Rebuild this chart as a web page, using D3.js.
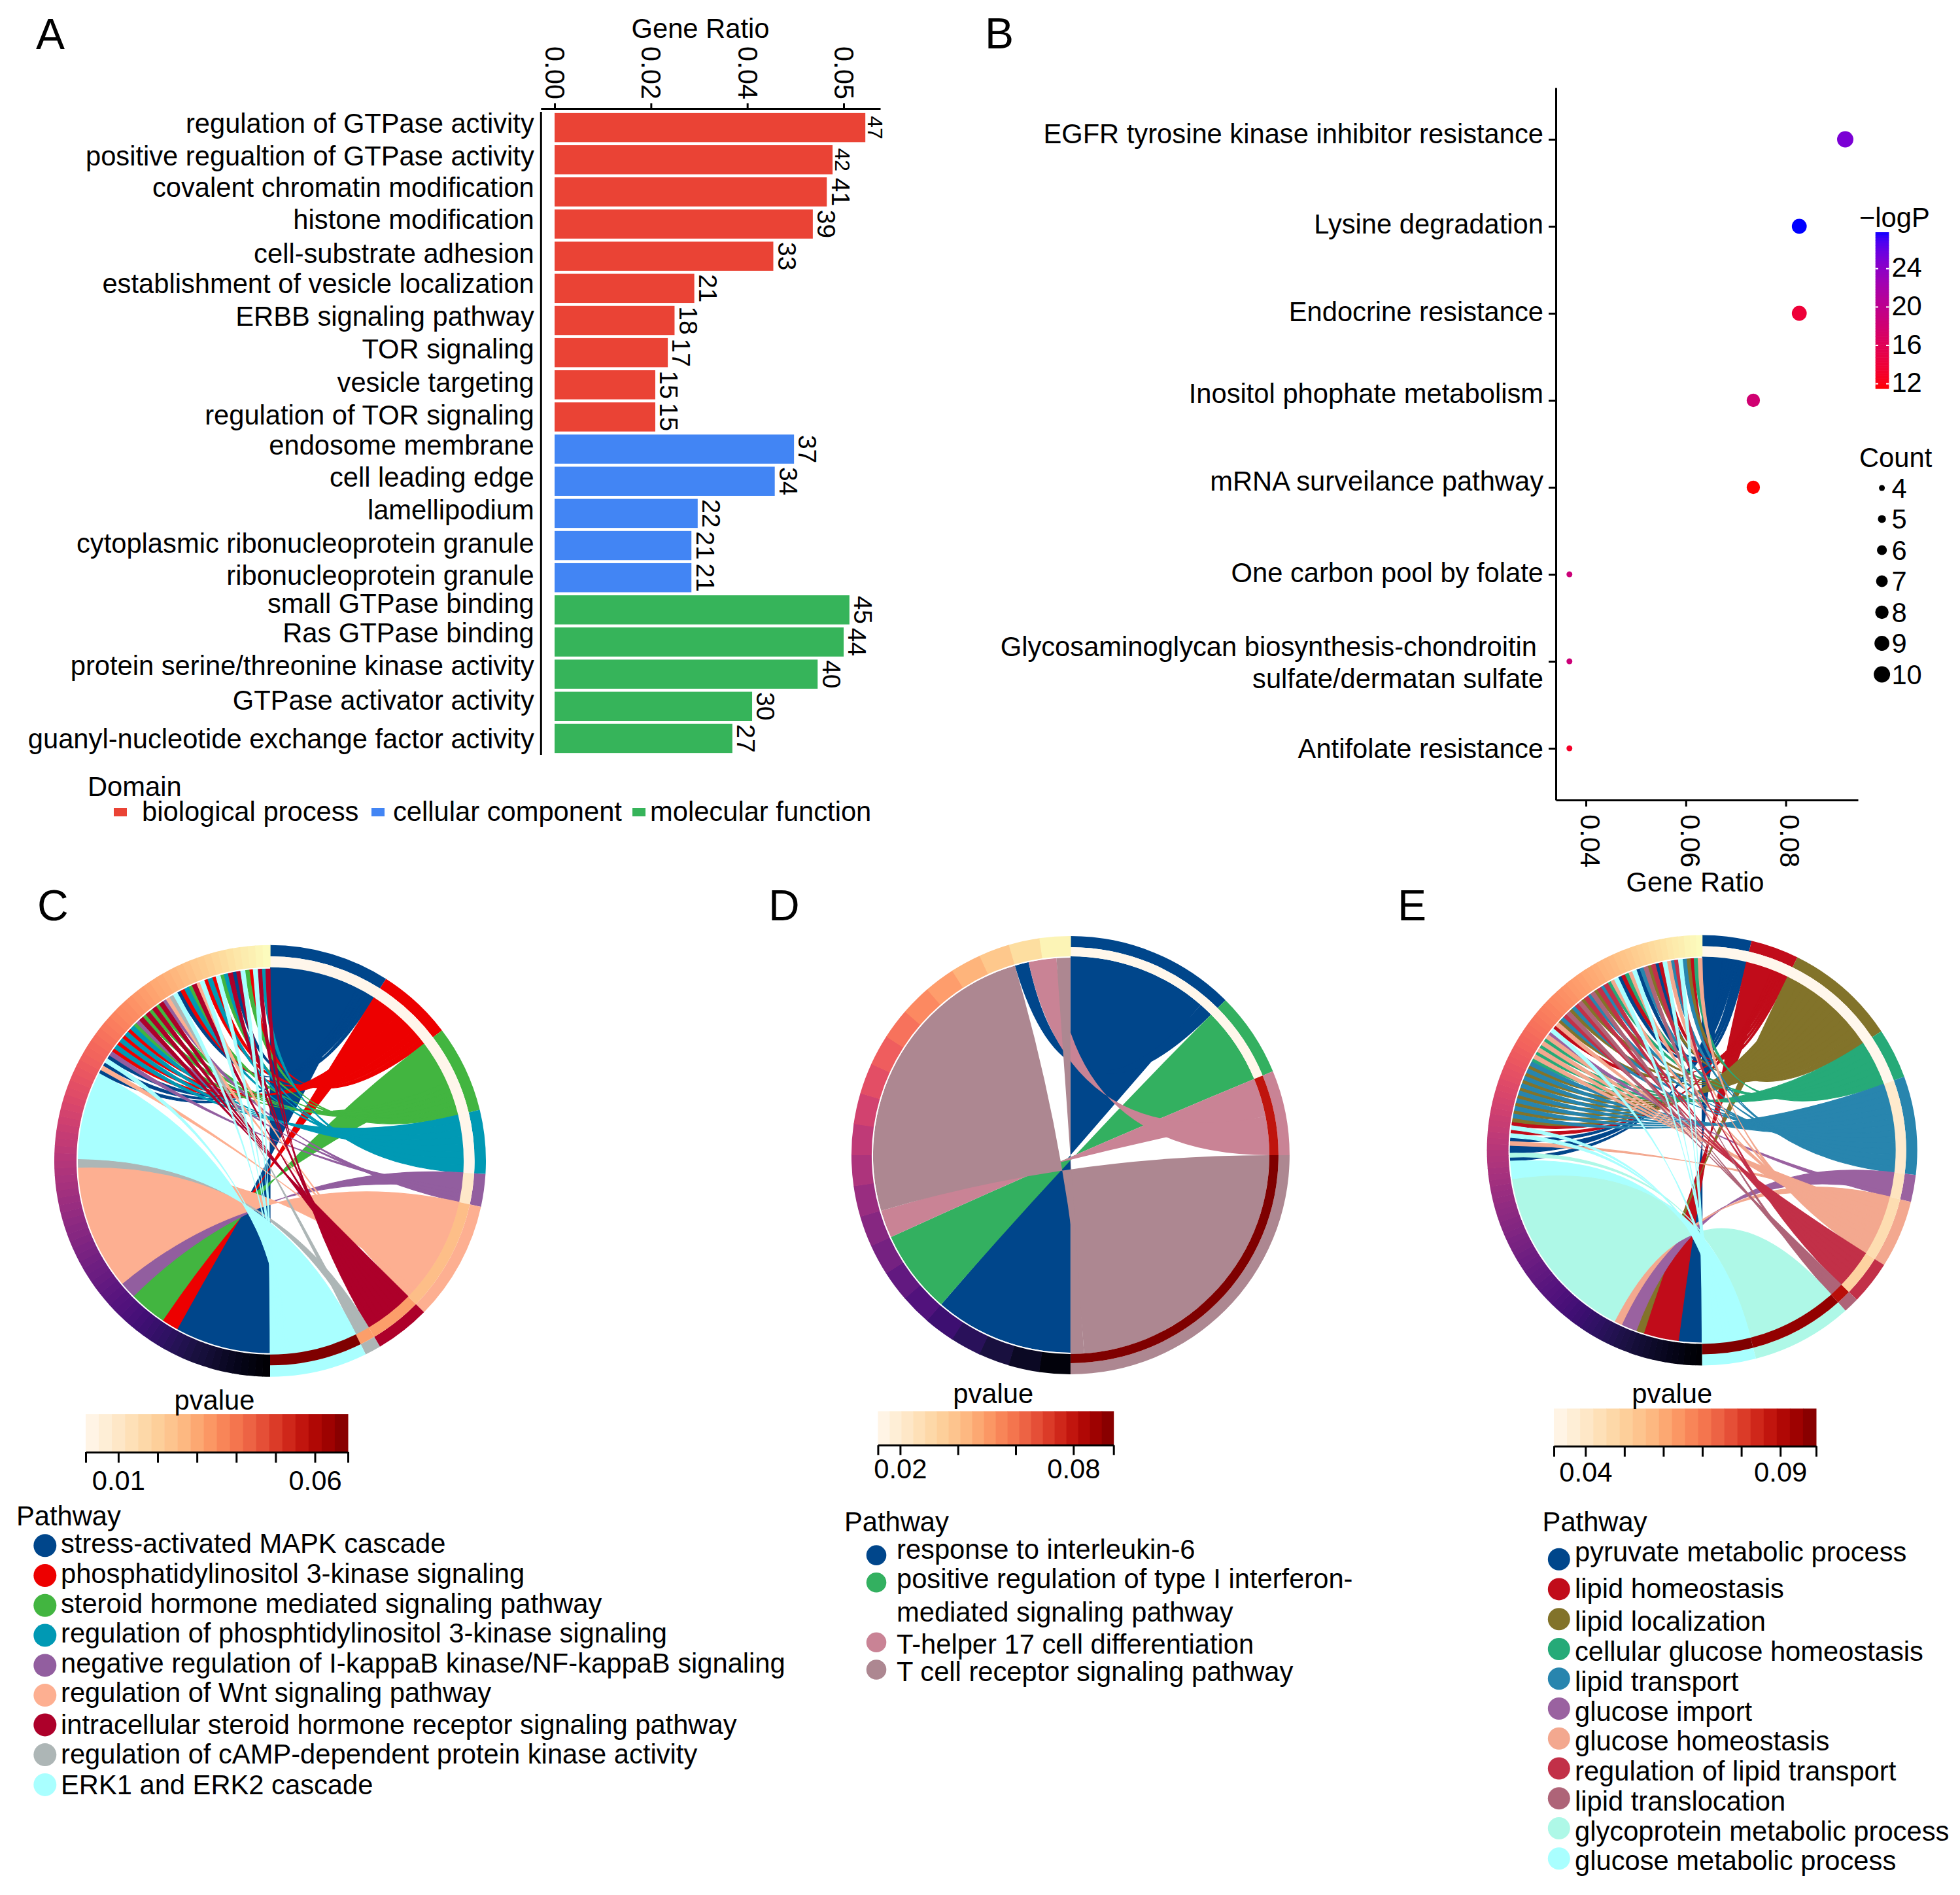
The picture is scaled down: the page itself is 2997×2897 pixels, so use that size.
<!DOCTYPE html>
<html>
<head>
<meta charset="utf-8">
<script src="https://d3js.org/d3.v7.min.js"></script>
<style>
  body { margin: 0; background: #fff; }
  text { font-family: "Liberation Sans", Arial, sans-serif; fill: #000; }
</style>
</head>
<body>
<div id="container"></div>
<script>
/* DATA - PANEL A */
const aTerms = ["regulation of GTPase activity","positive regualtion of GTPase activity","covalent chromatin modification","histone modification","cell-substrate adhesion","establishment of vesicle localization","ERBB signaling pathway","TOR signaling","vesicle targeting","regulation of TOR signaling","endosome membrane","cell leading edge","lamellipodium","cytoplasmic ribonucleoprotein granule","ribonucleoprotein granule","small GTPase binding","Ras GTPase binding","protein serine/threonine kinase activity","GTPase activator activity","guanyl-nucleotide exchange factor activity"];
const aCounts = [47,42,41,39,33,21,18,17,15,15,37,34,22,21,21,45,44,40,30,27];
const aRatios = [.0645,.0577,.0565,.0536,.0454,.029,.0249,.0235,.0209,.0209,.0497,.0457,.0297,.0284,.0284,.0612,.06,.0546,.041,.0369];
const aDomains = [0,0,0,0,0,0,0,0,0,0,1,1,1,1,1,2,2,2,2,2];
const aDomainNames = ["biological process","cellular component","molecular function"];
const aDomainColors = ["#ea4335","#4285f4","#36b45a"];
const aTickValues = [0,.02,.04,.06];
const aTickLabels = ["0.00","0.02","0.04","0.05"];
const aLabelNudge = [-7,-5.4,-6.4,-7.5,-4.4,-7.1,-6.5,-5.8,-3.6,-3.1,-6.5,-6,-5.4,-3.2,-3.3,-9.4,-13.7,-13.2,-9.2,.4];

/* DATA - PANEL B */
const bTerms = ["EGFR tyrosine kinase inhibitor resistance","Lysine degradation","Endocrine resistance","Inositol phophate metabolism","mRNA surveilance pathway","One carbon pool by folate","Glycosaminoglycan biosynthesis-chondroitin |sulfate/dermatan sulfate","Antifolate resistance"];
const bCounts = [10,9,9,8,8,4,4,4];
const bRatios = [.0919,.0827,.0827,.0735,.0735,.0367,.0367,.0367];
const bLogP = [25,27.8,14,18,11.5,18.5,18.5,13];
const bLabelNudge = [-9,-3.6,-2.7,-10.7,-9.8,-2.7,0,0];
const bLogPTicks = [12,16,20,24];
const bCountTicks = [4,5,6,7,8,9,10];

/* DATA - PANEL C */
const cNames = ["stress-activated MAPK cascade","phosphatidylinositol 3-kinase signaling","steroid hormone mediated signaling pathway","regulation of phosphtidylinositol 3-kinase signaling","negative regulation of I-kappaB kinase/NF-kappaB signaling","regulation of Wnt signaling pathway","intracellular steroid hormone receptor signaling pathway","regulation of cAMP-dependent protein kinase activity","ERK1 and ERK2 cascade"];
const cColors = ["#00468b","#ed0000","#42b540","#0099b4","#925e9f","#fdaf91","#ad002a","#adb6b6","#a9ffff"];
const cSizes = [32.5,20.3,23.5,17.2,8.8,32.2,14.9,4.3,26.3];
const cPvalues = [.002,.002,.002,.002,.0097,.025,.032,.032,.0684];
const cChunks = [[0,23],[1,4],[2,9],[4,4],[5,30],[7,2],[8,21]];
const cStripes = [0,5,0,8,0,4,1,3,1,3,1,3,1,3,2,4,6,2,6,2,6,2,6,4,5,7,8,0,1,3,2,6,5,8,1,3,1,8,2,3,6,0,6,8,2,1,8,6,3,6];
const cBarTicks = [.0017,.01,.02,.03,.04,.05,.06,.0684];
const cBarLabels = [.01,.06];

/* DATA - PANEL D */
const dNames = ["response to interleukin-6","positive regulation of type I interferon-","T-helper 17 cell differentiation","T cell receptor signaling pathway"];
const dColors = ["#00468b","#33b060","#c98395","#ad8791"];
const dSizes = [45,22.5,22.5,90];
const dPvalues = [.0125,.0125,.08,.0939];
const dChunks = [[0,5],[1,3],[2,1],[3,11],[0,.5],[2,1],[3,.5]];
const dBarTicks = [.0123,.02,.04,.06,.08,.0939];
const dBarLabels = [.02,.08];

/* DATA - PANEL E */
const eNames = ["pyruvate metabolic process","lipid homeostasis","lipid localization","cellular glucose homeostasis","lipid transport","glucose import","glucose homeostasis","regulation of lipid transport","lipid translocation","glycoprotein metabolic process","glucose metabolic process"];
const eColors = ["#00468b","#c10c1a","#82732a","#26aa78","#2885ae","#9a62a0","#f3a88f","#c23048","#ae6478","#aef8e7","#a9ffff"];
const eSizes = [13.3,13,30.1,13.6,26.6,7.3,18.3,11.8,4.2,27.3,14.5];
const ePvalues = [.032,.032,.032,.032,.039,.042,.045,.049,.089,.096,.0992];
const eChunks = [[0,6],[1,9],[2,2],[5,4],[6,2],[9,46],[10,4.5]];
const eStripes = [0,9,0,0,6,0,10,1,10,1,2,4,2,4,2,4,2,4,2,4,2,4,2,4,2,4,3,6,3,6,3,6,3,6,5,10,1,6,2,4,7,8,2,4,7,8,2,7,4,8,2,7,4,7,3,6,10,0,1,3,6,10,0,4,8,2,7,0,1,10,6,4,7,10,4,2,1,3,6];
const eBarTicks = [.0319,.04,.05,.06,.07,.08,.09,.0992];
const eBarLabels = [.04,.09];

/* HTML ELEMENTS */
const svg = d3.select("#container").append("svg")
  .attr("width", 2997).attr("height", 2897)
  .style("display", "block");

const fontSize = 41.7;

function label(x, y, str, anchor = "start", size = fontSize) {
  return svg.append("text")
    .attr("x", x).attr("y", y).attr("dy", ".35em")
    .attr("text-anchor", anchor)
    .attr("font-size", size)
    .text(str);
}

function styleAxis(g) {
  g.select(".domain").attr("stroke", "#000").attr("stroke-width", 3);
  g.selectAll(".tick line").attr("stroke", "#000").attr("stroke-width", 3);
  g.selectAll(".tick text").attr("font-size", fontSize).attr("font-family", null);
  g.attr("font-family", null).attr("font-size", null);
}

[["A",55,75],["B",1506,74],["C",57,1407],["D",1175,1407],["E",2137,1407]].forEach(d => {
  svg.append("text").attr("x", d[1]).attr("y", d[2]).attr("font-size", 66).text(d[0]);
});

/* PANEL A */
const aX = d3.scaleLinear().domain([-.00288,.0676]).range([826.8,1346]);
const aY = d3.scaleBand().domain(aTerms).range([170.5,1153.5]).paddingInner(.095).paddingOuter(.0475);

svg.append("g").selectAll("rect")
  .data(aTerms)
  .join("rect")
  .attr("x", aX(0))
  .attr("y", d => aY(d))
  .attr("width", (d,i) => aX(aRatios[i]) - aX(0))
  .attr("height", aY.bandwidth())
  .attr("fill", (d,i) => aDomainColors[aDomains[i]]);

svg.append("g").attr("transform", "translate(826.8,0)")
  .call(d3.axisLeft(aY).tickSize(0).tickPadding(10).tickSizeOuter(0))
  .call(styleAxis)
  .selectAll(".tick text").attr("dy", (d,i) => aLabelNudge[i]).attr("dominant-baseline", "central");

svg.append("g").attr("transform", "translate(0,166)")
  .call(d3.axisTop(aX).tickValues(aTickValues).tickSize(8).tickSizeOuter(0).tickFormat((d,i) => aTickLabels[i]))
  .call(styleAxis)
  .selectAll(".tick text")
  .attr("transform", "rotate(90)")
  .attr("text-anchor", "end")
  .attr("x", -14).attr("y", 0).attr("dy", ".35em");

aCounts.forEach((c,i) => {
  const small = c === 47 || c === 42;
  svg.append("text")
    .attr("transform", `translate(${aX(aRatios[i]) + (small ? 15 : 21)},${aY(aTerms[i]) + aY.bandwidth()/2}) rotate(90)`)
    .attr("dy", ".35em").attr("text-anchor", "middle")
    .attr("font-size", small ? 32 : 39)
    .text(c);
});

label(1071, 43, "Gene Ratio", "middle");
label(134, 1202, "Domain");
[[174,217],[568,601],[967,994]].forEach((d,i) => {
  svg.append("rect").attr("x", d[0]).attr("y", 1235).attr("width", 20).attr("height", 13).attr("fill", aDomainColors[i]);
  label(d[1], 1240, aDomainNames[i]);
});

/* PANEL B */
const bX = d3.scaleLinear().domain([.03398,.09445]).range([2379,2841]);
const bY = d3.scalePoint().domain(bTerms).range([134,1223]).padding(.594);
const bSize = d3.scaleSqrt().domain([4,10]).range([4.5,12.5]);
const bColor = d3.scaleLinear().domain([11.5,27.8]).range(["#ff0000","#0000ff"]).interpolate(d3.interpolateLab);

svg.append("g").attr("transform", "translate(2379,0)")
  .call(d3.axisLeft(bY).tickSize(11).tickSizeOuter(0).tickPadding(8).tickFormat(d => d.split("|")[1] ? "" : d))
  .call(styleAxis)
  .selectAll(".tick text").attr("dy", (d,i) => bLabelNudge[i]).attr("dominant-baseline", "central");

const glyco = bTerms[6].split("|");
label(2350, 988, glyco[0], "end");
label(2360, 1037.5, glyco[1], "end");

svg.append("g").attr("transform", "translate(0,1223)")
  .call(d3.axisBottom(bX).tickValues([.04,.06,.08]).tickSize(10).tickSizeOuter(0).tickFormat(d3.format(".2f")))
  .call(styleAxis)
  .selectAll(".tick text")
  .attr("transform", "rotate(90)")
  .attr("text-anchor", "start")
  .attr("x", 22).attr("y", -6).attr("dy", ".35em");

svg.append("g").selectAll("circle")
  .data(bTerms)
  .join("circle")
  .attr("cx", (d,i) => bX(bRatios[i]))
  .attr("cy", d => bY(d))
  .attr("r", (d,i) => bSize(bCounts[i]))
  .attr("fill", (d,i) => bColor(bLogP[i]));

label(2592, 1348, "Gene Ratio", "middle");

// -logP colour bar
const bBarY = d3.scaleLinear().domain([11.5,27.8]).range([594,355]);
svg.append("g").selectAll("rect")
  .data(d3.range(60))
  .join("rect")
  .attr("x", 2867.7).attr("width", 20.7)
  .attr("y", d => bBarY(11.5 + (d+1)*16.3/60))
  .attr("height", 239/60 + .6)
  .attr("fill", d => bColor(11.5 + (d+.5)*16.3/60));
bLogPTicks.forEach(t => {
  [[2867.7,2872],[2884,2888.4]].forEach(s => {
    svg.append("line").attr("x1", s[0]).attr("x2", s[1]).attr("y1", bBarY(t)).attr("y2", bBarY(t))
      .attr("stroke", "#fff").attr("stroke-width", 2);
  });
  label(2892.4, bBarY(t) - 2, t);
});
label(2843, 332, "\u2212logP");

label(2843, 699, "Count");
const bLegY = d3.scalePoint().domain(bCountTicks).range([746,1031]);
bCountTicks.forEach(c => {
  svg.append("circle").attr("cx", 2877.6).attr("cy", bLegY(c)).attr("r", bSize(c)).attr("fill", "#000");
  label(2892.4, bLegY(c), c);
});

/* CHORD PANELS */
const halfPi = Math.PI / 2;

// ribbon with start tied to start and end to end, both curves pulled to the centre
function chordPath(r0, r1, l0, l1, rr, lr) {
  const p = d3.path();
  p.moveTo(rr*Math.cos(r0-halfPi), rr*Math.sin(r0-halfPi));
  p.arc(0, 0, rr, r0-halfPi, r1-halfPi);
  p.quadraticCurveTo(0, 0, lr*Math.cos(l1-halfPi), lr*Math.sin(l1-halfPi));
  p.arc(0, 0, lr, l1-halfPi, l0-halfPi, true);
  p.quadraticCurveTo(0, 0, rr*Math.cos(r0-halfPi), rr*Math.sin(r0-halfPi));
  p.closePath();
  return p.toString();
}

function drawChord(c) {
  const g = svg.append("g").attr("transform", `translate(${c.cx},${c.cy})`);
  const total = d3.sum(c.links, d => d[1]);
  const leftAngle = d3.scaleLinear().domain([0,total]).range([Math.PI,2*Math.PI]);
  const rightAngle = d3.scaleLinear().domain([0,d3.sum(c.sizes)]).range([0,Math.PI]);
  const pColor = d3.scaleSequential(d3.interpolateOrRd).domain(c.pDomain);

  // left side order comes from links, right side keeps the same order inside each pathway
  let pos = 0;
  const ribbons = c.links.map(d => {
    const o = {path: d[0], w: d[1], l0: pos, l1: pos + d[1]};
    pos += d[1];
    return o;
  });
  let start = 0;
  const rings = [];
  c.sizes.forEach((size,i) => {
    const own = ribbons.filter(d => d.path === i);
    const k = size / (d3.sum(own, d => d.w) || 1);
    let at = start;
    own.forEach(d => { d.r0 = at; at += d.w*k; d.r1 = at; });
    rings.push({i: i, a0: rightAngle(start), a1: rightAngle(start+size)});
    start += size;
  });

  c.colors.forEach((col,i) => {
    g.selectAll(null)
      .data(ribbons.filter(d => d.path === i))
      .join("path")
      .attr("d", d => chordPath(rightAngle(d.r0), rightAngle(d.r1), leftAngle(d.l0), leftAngle(d.l1), c.rIn, c.rIn-2))
      .attr("fill", col)
      .attr("stroke", col)
      .attr("stroke-width", c.seam)
      .attr("stroke-linejoin", "round");
  });

  // white edge under the rings, then pathway ring, pvalue ring
  rings.forEach(d => {
    g.append("path")
      .attr("d", d3.arc()({innerRadius: c.rMid, outerRadius: c.rOut, startAngle: d.a0, endAngle: d.a1}))
      .attr("fill", c.colors[d.i]);
    g.append("path")
      .attr("d", d3.arc()({innerRadius: c.rIn, outerRadius: c.rMid, startAngle: d.a0, endAngle: d.a1}))
      .attr("fill", pColor(c.pvalues[d.i]));
  });
  g.append("path")
    .attr("d", d3.arc()({innerRadius: c.rIn-2, outerRadius: c.rIn, startAngle: Math.PI, endAngle: 2*Math.PI}))
    .attr("fill", "#fff");

  // gene ring
  const block = Math.PI / c.genes;
  g.selectAll(null)
    .data(d3.range(c.genes))
    .join("path")
    .attr("d", d => d3.arc()({innerRadius: c.rIn, outerRadius: c.rOut, startAngle: Math.PI + d*block, endAngle: Math.PI + (d+1)*block + .002}))
    .attr("fill", d => d3.interpolateMagma((d+.5)/c.genes));

  // pvalue bar
  const b = c.bar;
  const barX = d3.scaleLinear().domain(c.pDomain).range([b.x0,b.x1]);
  const step = (c.pDomain[1]-c.pDomain[0]) / 20;
  svg.append("g").selectAll("rect")
    .data(d3.range(20))
    .join("rect")
    .attr("x", d => barX(c.pDomain[0] + d*step))
    .attr("y", b.y0)
    .attr("width", barX(c.pDomain[0]+step) - b.x0 + .5)
    .attr("height", b.y1 - b.y0)
    .attr("fill", d => pColor(c.pDomain[0] + (d+.5)*step));
  svg.append("g").attr("transform", `translate(0,${b.y1})`)
    .call(d3.axisBottom(barX).tickValues(c.barTicks).tickSize(b.tick).tickSizeOuter(0).tickPadding(b.pad)
      .tickFormat(d => c.barLabels.includes(d) ? d3.format(".2f")(d) : ""))
    .call(styleAxis);
  label(b.titleX, b.titleY, "pvalue", "middle");

  // pathway legend
  label(c.legend.titleX, c.legend.titleY, "Pathway");
  c.names.forEach((n,i) => {
    svg.append("circle").attr("cx", c.legend.dotX).attr("cy", c.legend.dotY[i]).attr("r", c.legend.r).attr("fill", c.colors[i]);
  });
  c.legend.rows.forEach((n,i) => label(c.legend.textX, c.legend.textY[i], n));
}

const cLinks = cChunks.concat(cStripes.map(d => [d,1]));
const eLinks = eChunks.concat(eStripes.map(d => [d,1]));

drawChord({
  cx: 413, cy: 1774.7, rOut: 330, rMid: 312.6, rIn: 296, seam: 1.2,
  links: cLinks, sizes: cSizes, colors: cColors, names: cNames, pvalues: cPvalues,
  pDomain: [.0017,.0684], genes: 90, barTicks: cBarTicks, barLabels: cBarLabels,
  bar: {x0: 131, x1: 532, y0: 2162, y1: 2220, tick: 16, pad: 12, titleX: 328, titleY: 2140.7},
  legend: {titleX: 25, titleY: 2317, dotX: 68.8, r: 17.5, textX: 93,
    dotY: [2362.8,2408.6,2454.3,2500,2545.9,2591.6,2636.9,2682.6,2728.4],
    textY: [2359,2405,2451,2496,2542,2587,2636,2681,2728],
    rows: cNames}
});

drawChord({
  cx: 1636.9, cy: 1765.9, rOut: 335, rMid: 318, rIn: 304, seam: 0,
  links: dChunks, sizes: dSizes, colors: dColors, names: dNames, pvalues: dPvalues,
  pDomain: [.0123,.0939], genes: 22, barTicks: dBarTicks, barLabels: dBarLabels,
  bar: {x0: 1342.4, x1: 1702.7, y0: 2157.4, y1: 2209.3, tick: 15, pad: 6, titleX: 1518.7, titleY: 2130.5},
  legend: {titleX: 1291, titleY: 2326, dotX: 1340, r: 15.3, textX: 1371,
    dotY: [2377.6,2419.3,2510.8,2552.5],
    textY: [2368.4,2413.7,2464,2513.3,2555],
    rows: [dNames[0],dNames[1],"mediated signaling pathway",dNames[2],dNames[3]]}
});

drawChord({
  cx: 2602.6, cy: 1758.5, rOut: 329, rMid: 312, rIn: 296, seam: 1.2,
  links: eLinks, sizes: eSizes, colors: eColors, names: eNames, pvalues: ePvalues,
  pDomain: [.0319,.0992], genes: 110, barTicks: eBarTicks, barLabels: eBarLabels,
  bar: {x0: 2376, x1: 2777, y0: 2153.4, y1: 2210.8, tick: 16, pad: 9, titleX: 2556.8, titleY: 2130.5},
  legend: {titleX: 2358.6, titleY: 2326, dotX: 2383.8, r: 17, textX: 2408,
    dotY: [2383.7,2429.4,2475.2,2521,2566.2,2612,2657.7,2703.5,2749.2,2795,2841.2],
    textY: [2372,2428,2478.7,2524.5,2570.3,2616,2661.8,2707.5,2753.3,2799,2844.8],
    rows: eNames}
});
</script>
</body>
</html>
